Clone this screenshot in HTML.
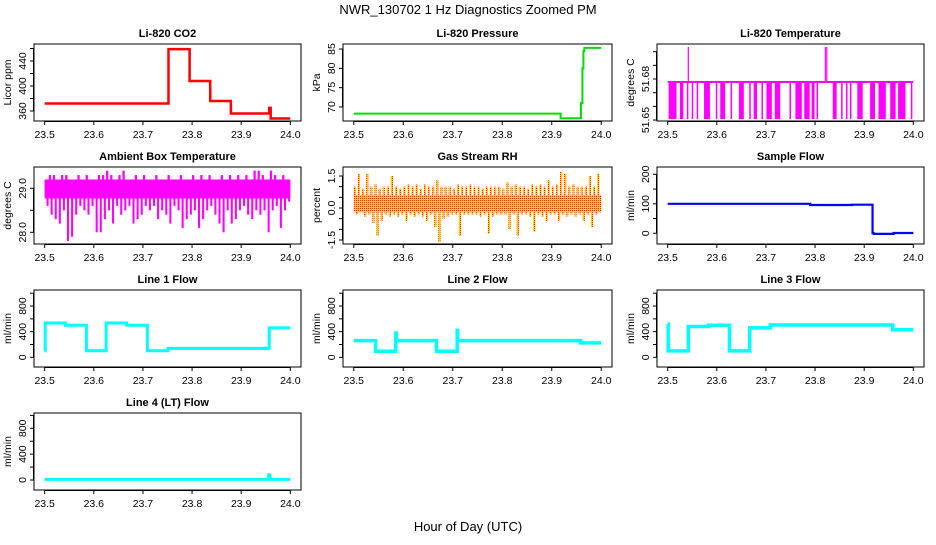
<!DOCTYPE html>
<html><head><meta charset="utf-8">
<style>
body{margin:0;background:#fff;}
svg text{font-family:"Liberation Sans",sans-serif;}
</style></head>
<body>
<svg id="chart" width="936" height="540" viewBox="0 0 936 540" xmlns="http://www.w3.org/2000/svg">
<defs>
<pattern id="rhpat" width="2" height="2" patternUnits="userSpaceOnUse">
<rect width="2" height="2" fill="#ffcc00"/><rect width="1" height="1" fill="#ff2000"/>
</pattern>
</defs>
<text x="468" y="14" font-size="13" text-anchor="middle">NWR_130702  1 Hz Diagnostics Zoomed PM</text>
<text x="468" y="531" font-size="13" text-anchor="middle">Hour of Day (UTC)</text>
</svg>
<script>
// ---------- data ----------
const xTicks = [23.5, 23.6, 23.7, 23.8, 23.9, 24.0];
const xTickLabels = ["23.5", "23.6", "23.7", "23.8", "23.9", "24.0"];

const co2Times = [23.5, 23.752, 23.795, 23.837, 23.879, 23.957, 23.960];
const co2Values = [372, 459, 408, 376, 356, 365, 348];

const presTimes = [23.5, 23.918, 23.959, 23.962, 23.964, 23.966];
const presValues = [68.3, 67.1, 71, 80, 84.5, 85.3];

const tempBase = 51.6778;
const tempLow = 51.6507;
const tempSpike = 51.7034;
const tempSpikeTimes = [23.542, 23.821, 23.824];
const tempDropStart = [23.502,23.525,23.539,23.549,23.559,23.574,23.598,23.607,23.628,23.645,23.666,23.675,23.691,23.701,23.718,23.748,23.760,23.778,23.793,23.803,23.836,23.853,23.863,23.871,23.886,23.912,23.929,23.953,23.969,23.995];
const tempDropEnd = [23.518,23.532,23.540,23.550,23.560,23.586,23.599,23.617,23.629,23.655,23.668,23.682,23.693,23.712,23.729,23.749,23.773,23.789,23.799,23.805,23.844,23.855,23.864,23.872,23.897,23.922,23.944,23.964,23.984,23.996];

const ambLow = [28.6,28.4,28.3,28.2,28.5,27.8,27.9,28.4,28.6,28.5,28.4,28.6,28.0,28.0,28.3,28.5,28.2,28.6,28.4,28.5,28.6,28.2,28.3,28.4,28.6,28.5,28.6,28.3,28.5,28.4,28.2,28.6,28.5,28.1,28.3,28.4,28.5,28.1,28.3,28.5,28.6,28.4,28.2,28.0,28.5,28.2,28.3,28.5,28.6,28.4,28.3,28.5,28.4,28.5,28.0,28.5,28.6,28.1,28.5,28.7];
const ambHigh = [29.2,29.3,29.3,29.2,29.3,29.3,29.2,29.2,29.3,29.2,29.3,29.2,29.2,29.3,29.3,29.4,29.3,29.2,29.3,29.4,29.2,29.2,29.3,29.2,29.3,29.2,29.2,29.3,29.2,29.2,29.3,29.2,29.2,29.3,29.2,29.2,29.3,29.2,29.3,29.2,29.3,29.2,29.2,29.3,29.2,29.3,29.2,29.3,29.2,29.3,29.2,29.4,29.4,29.3,29.2,29.4,29.3,29.2,29.3,29.2];
const ambCore = [28.77, 29.2];

const rhHigh = [1.0,1.6,0.9,1.6,1.0,1.1,0.9,1.0,1.0,1.5,1.0,0.9,1.0,1.1,1.0,1.1,0.9,1.1,1.0,1.0,1.3,1.0,1.0,1.0,0.9,1.1,1.0,1.0,1.1,1.0,1.0,0.9,1.0,1.0,1.0,1.0,0.9,1.2,1.0,1.1,1.0,1.0,0.9,1.1,1.0,1.1,1.0,1.3,1.0,1.1,1.7,1.6,1.0,1.1,1.0,1.0,1.0,1.5,1.0,1.6];
const rhLow = [-0.3,-0.2,-0.4,-0.3,-0.7,-1.3,-0.6,-0.3,-0.4,-0.3,-0.4,-0.3,-0.6,-0.3,-0.4,-0.3,-0.4,-0.6,-0.3,-0.9,-1.6,-0.5,-0.4,-0.3,-0.3,-1.3,-0.3,-0.3,-0.3,-0.3,-0.4,-0.3,-1.2,-0.4,-0.3,-0.3,-0.3,-1.0,-0.3,-1.3,-0.3,-0.3,-0.4,-1.1,-0.3,-0.4,-0.6,-0.3,-0.3,-0.6,-0.3,-0.4,-0.3,-0.4,-0.3,-0.6,-0.3,-0.9,-0.3,-0.2];
const rhCore = [-0.2, 0.6];

const sampleTimes = [23.5, 23.79, 23.875, 23.917, 23.92, 23.96];
const sampleValues = [100, 96, 97, 0, -2, 1];

const line1Times = [23.5, 23.501, 23.542, 23.585, 23.625, 23.667, 23.709, 23.751, 23.957];
const line1Values = [100, 535, 500, 103, 535, 500, 103, 140, 460];
const line2Times = [23.5, 23.544, 23.585, 23.586, 23.667, 23.709, 23.710, 23.958];
const line2Values = [260, 95, 380, 260, 95, 420, 260, 225];
const line3Times = [23.5, 23.501, 23.542, 23.583, 23.626, 23.667, 23.709, 23.958];
const line3Values = [520, 100, 480, 500, 100, 460, 505, 430];
const line4Times = [23.5, 23.956, 23.958, 23.960];
const line4Values = [10, 80, 20, 10];

// ---------- layout ----------
const NS = "http://www.w3.org/2000/svg";
const svg = document.getElementById("chart");
const cols = [{l:34,r:301},{l:343,r:612},{l:657,r:924}];
const rows = [{t:44,b:121},{t:167,b:244},{t:290,b:367},{t:413,b:490}];

function el(tag, attrs, parent){
  const e = document.createElementNS(NS, tag);
  for (const k in attrs) e.setAttribute(k, attrs[k]);
  (parent||svg).appendChild(e);
  return e;
}

function panel(ci, ri, title, ylab, ylim, yTicks, yLabels, name){
  const c = cols[ci], r = rows[ri];
  const g = el("g", {});
  
  
  const w = c.r - c.l;
  const x = v => c.l + w*0.04 + (v - 23.5)/0.5 * w*0.92;
  const y = v => r.b - (v - ylim[0])/(ylim[1]-ylim[0])*(r.b - r.t);
  const tt = el("text", {x:(c.l+c.r)/2, y:r.t-7, "font-size":11, "font-weight":"bold", "text-anchor":"middle"}, g);
  tt.textContent = title;
  
  
  const box = el("rect", {x:c.l, y:r.t, width:w, height:r.b-r.t, fill:"none", stroke:"#000", "stroke-width":1}, g);
  
  
  el("line", {x1:x(xTicks[0]), x2:x(xTicks[xTicks.length-1]), y1:r.b+0.5, y2:r.b+0.5, stroke:"#000"}, g);
  xTicks.forEach((t,i)=>{
    el("line", {x1:x(t), x2:x(t), y1:r.b, y2:r.b+4, stroke:"#000"}, g);
    const lt = el("text", {x:x(t), y:r.b+17, "font-size":10.5, "text-anchor":"middle"}, g);
    lt.textContent = xTickLabels[i];
    
    
  });
  el("line", {x1:c.l-0.5, x2:c.l-0.5, y1:y(yTicks[0]), y2:y(yTicks[yTicks.length-1]), stroke:"#000"}, g);
  yTicks.forEach((t,i)=>{
    el("line", {x1:c.l-4, x2:c.l, y1:y(t), y2:y(t), stroke:"#000"}, g);
    if (yLabels[i] !== "") {
      const lx = c.l - 8;
      const lt = el("text", {x:lx, y:y(t), "font-size":10.5, "text-anchor":"middle", transform:`rotate(-90 ${lx} ${y(t)})`}, g);
      lt.textContent = yLabels[i];
      
      
    }
  });
  const yx = c.l - 23, ym = (r.t + r.b)/2;
  const yl = el("text", {x:yx, y:ym, "font-size":10.5, "text-anchor":"middle", transform:`rotate(-90 ${yx} ${ym})`}, g);
  yl.textContent = ylab;
  
  
  return {g, x, y, c, r};
}

function stepLine(p, times, vals, color, width, name){
  let d = "";
  for (let i=0;i<times.length;i++){
    const xs = p.x(times[i]), ys = p.y(vals[i]);
    const xe = p.x(i+1<times.length ? times[i+1] : 24.0);
    d += (i===0 ? `M${xs},${ys}` : `V${ys}`) + `H${xe}`;
  }
  const path = el("path", {d, fill:"none", stroke:color, "stroke-width":width}, p.g);
  
  
}

// CO2
let p = panel(0,0,"Li-820 CO2","Licor ppm",[344,467.2],[360,380,400,420,440,460],["360","","400","","440",""],"co2");
stepLine(p, co2Times, co2Values, "#ff0000", 2.5, "co2-line");

// Pressure
p = panel(1,0,"Li-820 Pressure","kPa",[66.38,86.29],[70,75,80,85],["70","75","80","85"],"pressure");
stepLine(p, presTimes, presValues, "#00dd00", 2, "pressure-line");

// Temperature
p = panel(2,0,"Li-820 Temperature","degrees C",[51.6493,51.7056],[51.65,51.66,51.67,51.68,51.69,51.70],["51.65","","","51.68","",""],"li820-temp");
{
  const base = el("line", {x1:p.x(23.5), x2:p.x(24.0), y1:p.y(tempBase), y2:p.y(tempBase), stroke:"#ff00ff", "stroke-width":2}, p.g);
  
  
  tempDropStart.forEach((s,i)=>{
    const x0 = p.x(s), x1 = Math.max(p.x(tempDropEnd[i]), x0+1.5);
    const r = el("rect", {x:x0, y:p.y(tempBase), width:x1-x0, height:p.y(tempLow)-p.y(tempBase), fill:"#ff00ff"}, p.g);
    
    
  });
  tempSpikeTimes.forEach(t=>{
    const l = el("line", {x1:p.x(t), x2:p.x(t), y1:p.y(tempBase), y2:p.y(tempSpike), stroke:"#ff00ff", "stroke-width":1.2}, p.g);
    
    
  });
}

// Ambient
p = panel(0,1,"Ambient Box Temperature","degrees C",[27.734,29.484],[28.0,28.5,29.0],["28.0","","29.0"],"ambient-temp");
{
  const n = ambLow.length, bw = (p.x(24.0)-p.x(23.5))/n;
  const core = el("rect", {x:p.x(23.5), y:p.y(ambCore[1]), width:p.x(24.0)-p.x(23.5), height:p.y(ambCore[0])-p.y(ambCore[1]), fill:"#ff00ff"}, p.g);
  
  
  for (let i=0;i<n;i++){
    const x0 = p.x(23.5 + i/n*0.5);
    const b1 = el("rect", {x:x0, y:p.y(ambHigh[i]), width:bw*0.55, height:p.y(ambCore[0])-p.y(ambHigh[i]), fill:"#ff00ff"}, p.g);
    
    
    const b2 = el("rect", {x:x0+bw*0.45, y:p.y(ambCore[1]), width:bw*0.5, height:p.y(ambLow[i])-p.y(ambCore[1]), fill:"#ff00ff"}, p.g);
    
    
  }
}

// RH
p = panel(1,1,"Gas Stream RH","percent",[-1.688,1.922],[-1.5,-1.0,-0.5,0,0.5,1.0,1.5],["-1.5","","","0.0","","","1.5"],"rh");
{
  const n = rhLow.length, bw = (p.x(24.0)-p.x(23.5))/n;
  const core = el("rect", {x:p.x(23.5), y:p.y(rhCore[1]), width:p.x(24.0)-p.x(23.5), height:p.y(rhCore[0])-p.y(rhCore[1]), fill:"url(#rhpat)"}, p.g);
  
  
  for (let i=0;i<n;i++){
    const x0 = p.x(23.5 + i/n*0.5);
    const b1 = el("rect", {x:x0, y:p.y(rhHigh[i]), width:2.2, height:p.y(rhCore[1])-p.y(rhHigh[i]), fill:"url(#rhpat)"}, p.g);
    
    
    const b2 = el("rect", {x:x0+bw*0.5, y:p.y(rhCore[0]), width:2.2, height:p.y(rhLow[i])-p.y(rhCore[0]), fill:"url(#rhpat)"}, p.g);
    
    
  }
}

// Sample flow
p = panel(2,1,"Sample Flow","ml/min",[-36.3,224.7],[0,50,100,150,200],["0","","100","","200"],"sample-flow");
stepLine(p, sampleTimes, sampleValues, "#0000ff", 2.2, "sample-flow-line");

const flowTicks = [0,200,400,600,800,1000];
const flowLabels = ["0","","400","","800",""];
p = panel(0,2,"Line 1 Flow","ml/min",[-151,1050],flowTicks,flowLabels,"line1-flow");
stepLine(p, line1Times, line1Values, "#00ffff", 3, "line1-flow-line");
p = panel(1,2,"Line 2 Flow","ml/min",[-151,1050],flowTicks,flowLabels,"line2-flow");
stepLine(p, line2Times, line2Values, "#00ffff", 3.5, "line2-flow-line");
p = panel(2,2,"Line 3 Flow","ml/min",[-151,1050],flowTicks,flowLabels,"line3-flow");
stepLine(p, line3Times, line3Values, "#00ffff", 3.5, "line3-flow-line");
p = panel(0,3,"Line 4 (LT) Flow","ml/min",[-155,1037],flowTicks,flowLabels,"line4-flow");
stepLine(p, line4Times, line4Values, "#00ffff", 3, "line4-flow-line");
</script>
</body></html>
